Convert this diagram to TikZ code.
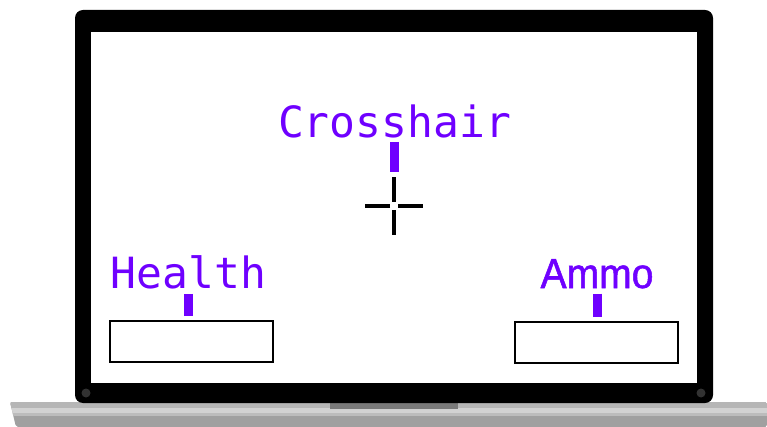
\documentclass[tikz,border=0pt]{standalone}
\usepackage{fontspec}
\newfontfamily\hudmono{DejaVu Sans Mono}
\newfontfamily\hudsans{Liberation Sans}[FakeStretch=0.93, FakeBold=1.2]
\definecolor{hudviolet}{RGB}{111,0,255}
\definecolor{basemain}{RGB}{160,160,160}
\definecolor{baseedge}{RGB}{182,182,182}
\definecolor{baselight}{RGB}{210,210,210}
\definecolor{basemid}{RGB}{188,188,188}
\definecolor{notchgray}{RGB}{122,122,122}
\definecolor{screwgray}{RGB}{50,50,50}

\begin{document}
\begin{tikzpicture}[x=1pt,y=-1pt]
\tikzstyle{lbl}=[inner sep=0pt, anchor=base, text=hudviolet, font=\fontsize{43}{50}\selectfont]
\tikzstyle{tick}=[draw=hudviolet, line width=9pt]
\tikzstyle{statbox}=[rectangle, draw=black, line width=2pt, fill=white, minimum width=163pt, minimum height=41pt]
\tikzstyle{aimzone}=[circle, inner sep=0pt, minimum size=58pt]
\tikzstyle{arm}=[draw=black, line width=4pt]
\useasboundingbox (0,0) rectangle (767,427);

% laptop base
\begin{scope}
\clip[rounded corners=2pt] (10,402) -- (767,402) -- (767,427) -- (16,427) -- cycle;
\fill[basemain] (0,402) rectangle (767,427);
\fill[baseedge] (0,402) rectangle (767,408);
\fill[baselight] (0,408) rectangle (767,413);
\fill[basemid] (0,413) rectangle (767,416);
\end{scope}
\fill[notchgray] (330,403) rectangle (458,409);

% lid and screen
\fill[black, rounded corners=8pt] (75,10) rectangle (713,403);
\fill[white] (91,32) rectangle (697,383);
\fill[screwgray] (86,393) circle (4.5pt);
\fill[screwgray] (701,393) circle (4.5pt);

% hud elements
\node (aim) [aimzone] at (394,206) {};
\foreach \ang in {0,90,180,270}
  \draw[arm] (aim.center) ++(\ang:4) -- ++(\ang:25);
\node (healthbar) [statbox] at (191.5,341.5) {};
\node (ammobar) [statbox] at (596,342) {};

\node (aimtxt) [lbl] at (394.5,137.5) {\hudmono Crosshair};
\node (healthtxt) [lbl] at (188.5,288) {\hudmono Health};
\node (ammotxt) [lbl] at (597,288) {\hudsans\fontsize{42}{50}\selectfont Ammo};

\draw[tick, shorten <=3.5pt, shorten >=5pt] (aimtxt.south) -- (aimtxt.south |- aim.north);
\draw[tick, shorten <=5pt, shorten >=4pt] (healthtxt.south) -- (healthtxt.south |- healthbar.north);
\draw[tick, shorten <=5pt, shorten >=4pt] (ammotxt.south) -- (ammotxt.south |- ammobar.north);
\end{tikzpicture}
\end{document}
